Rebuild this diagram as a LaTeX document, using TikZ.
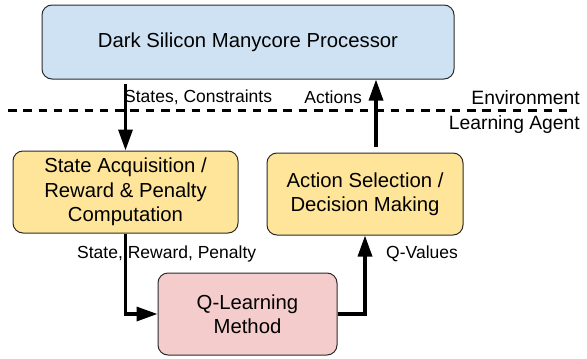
\documentclass[tikz,border=0pt]{standalone}
\usepackage{fontspec}
\setmainfont{Liberation Sans}
\usetikzlibrary{arrows.meta}
\definecolor{procblue}{HTML}{CFE2F3}
\definecolor{agentyellow}{HTML}{FFE599}
\definecolor{learnpink}{HTML}{F4CCCC}
\definecolor{boxline}{HTML}{2B2B2B}
\tikzset{
  x=1pt, y=1pt,
  block/.style={draw=boxline, line width=1pt, rounded corners=10pt,
    align=center, inner sep=0pt, font=\fontsize{20.3}{24.5}\selectfont},
  flow/.style={line width=3.3pt, -{Triangle[length=21pt,width=14pt]}},
  flowlabel/.style={inner sep=0pt, font=\fontsize{17.5}{20}\selectfont},
  zonelabel/.style={inner sep=0pt, font=\fontsize{19.3}{22}\selectfont},
  divider/.style={line width=2.1pt, dash pattern=on 8.5pt off 6.8pt}
}
\begin{document}
\begin{tikzpicture}
\useasboundingbox (0,0) rectangle (587,-359);

% environment / agent blocks
\node[block, fill=procblue, minimum width=412pt, minimum height=74pt]
  (proc) at (248,-42) {Dark Silicon Manycore Processor};
\node[block, fill=agentyellow, minimum width=225pt, minimum height=82pt]
  (acq) at (125.5,-192) {State Acquisition /\\Reward \& Penalty\\Computation};
\node[block, fill=agentyellow, minimum width=196pt, minimum height=82pt]
  (act) at (365,-194) {Action Selection /\\Decision Making};
\node[block, fill=learnpink, minimum width=179pt, minimum height=82pt]
  (qlm) at (247.5,-314) {Q-Learning\\Method};

% boundary between environment and agent
\coordinate (divL) at (8,-110.5);
\coordinate (divR) at (569,-110.5);
\draw[divider] (divL) -- (divR);
\node[zonelabel, anchor=east] (env) at (580,-98) {Environment};
\node[zonelabel, anchor=east] (agent) at (580,-125) {Learning Agent};

% signal flow
\draw[flow] ([yshift=-4pt]proc.south -| acq.north) -- (acq.north);
\coordinate (actout) at (376,-147);
\draw[flow] (actout) -- (actout |- proc.south);
\draw[flow] (acq.south) |- (qlm.west);
\draw[flow] (qlm.east) -| (act.south);

% flow labels
\node[flowlabel, anchor=west] (lblstates) at (124,-97) {States, Constraints};
\node[flowlabel, anchor=east] (lblactions) at (362,-97) {Actions};
\node[flowlabel, anchor=west] (lblreward) at (77,-254) {State, Reward, Penalty};
\node[flowlabel, anchor=west] (lblq) at (386,-254) {Q-Values};
\end{tikzpicture}
\end{document}
